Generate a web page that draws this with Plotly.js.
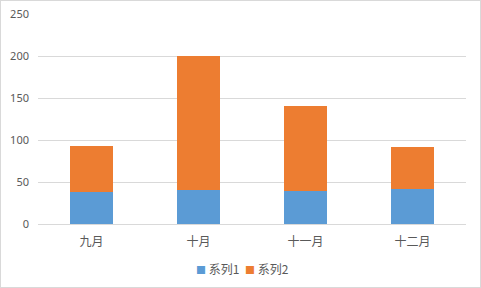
<!DOCTYPE html>
<html>
<head>
<meta charset="utf-8">
<script src="https://cdn.plot.ly/plotly-3.0.1.min.js"></script>
<style>
html,body{margin:0;padding:0;background:#fff;}
#chart{width:481px;height:288px;box-sizing:border-box;border:1px solid #d9d9d9;}
</style>
</head>
<body>
<div id="chart"></div>
<script>
const categories = ['九月', '十月', '十一月', '十二月'];
const series1 = [38, 41, 39, 42];
const series2 = [55, 159, 101, 50];
const seriesNames = ['系列1', '系列2'];
const seriesColors = ['#5B9BD5', '#ED7D31'];
const yTicks = [0, 50, 100, 150, 200, 250];

const fontFamily = '"Noto Sans", "Noto Sans CJK SC", sans-serif';

const data = [
  {type: 'bar', x: categories, y: series1, name: seriesNames[0], marker: {color: seriesColors[0]}, hoverinfo: 'none'},
  {type: 'bar', x: categories, y: series2, name: seriesNames[1], marker: {color: seriesColors[1]}, hoverinfo: 'none'}
];

const legendX = [0.42, 0.535];
const legendAnn = seriesNames.map((n, i) => ({
  xref: 'paper', yref: 'paper',
  x: legendX[i],
  y: -0.21,
  xanchor: 'center', yanchor: 'middle',
  showarrow: false,
  text: '<span style="color:' + seriesColors[i] + ';font-size:10px">■</span> ' + n,
  font: {size: 12, color: '#595959', family: '"Noto Sans CJK SC", sans-serif'}
}));

const layout = {
  width: 479, height: 286,
  margin: {l: 37, r: 14, t: 13, b: 63},
  barmode: 'stack',
  bargap: 0.6,
  paper_bgcolor: '#fff',
  plot_bgcolor: '#fff',
  font: {family: fontFamily, size: 11, color: '#595959'},
  xaxis: {
    type: 'category',
    showgrid: false,
    showline: true,
    linecolor: '#d9d9d9',
    linewidth: 1,
    ticks: '',
    ticklabelstandoff: 7,
    tickfont: {size: 12, color: '#595959', family: '"Noto Sans CJK SC", sans-serif'},
    fixedrange: true
  },
  yaxis: {
    range: [0, 250],
    tickvals: yTicks,
    showgrid: true,
    gridcolor: '#d9d9d9',
    gridwidth: 1,
    zeroline: false,
    showline: false,
    ticks: '',
    ticklabelstandoff: 8,
    tickfont: {size: 11, color: '#595959'},
    fixedrange: true
  },
  showlegend: false,
  annotations: legendAnn
};

Plotly.newPlot('chart', data, layout, {displayModeBar: false, staticPlot: true});
</script>
</body>
</html>
